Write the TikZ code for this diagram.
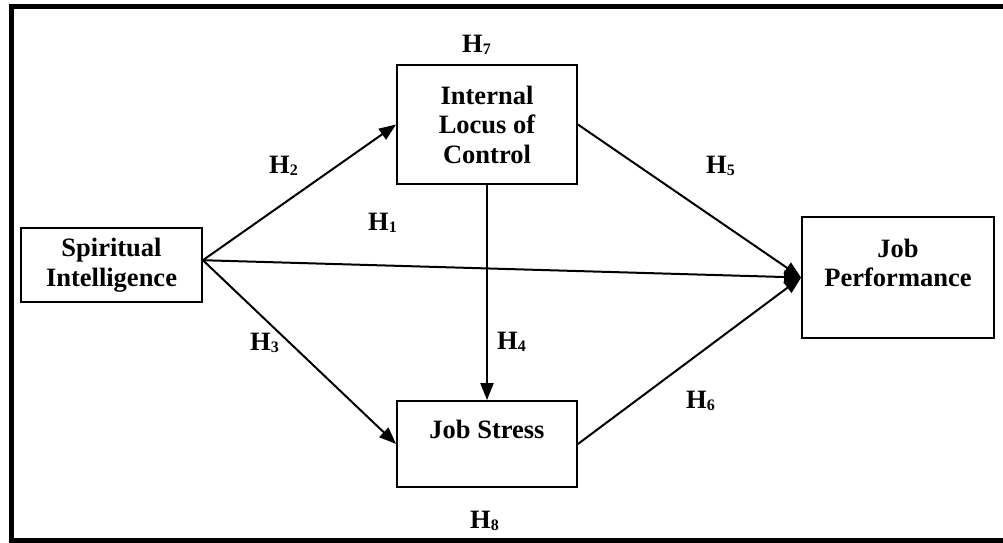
\documentclass[tikz,border=0pt]{standalone}
\usepackage{fontspec}
\setmainfont{Liberation Serif}
\usepackage{tikz}
\usetikzlibrary{arrows.meta}
\newcommand{\hyp}[1]{H\raisebox{-2pt}{\fontsize{16}{16}\selectfont #1}}

\begin{document}
\begin{tikzpicture}[x=1pt,y=-1pt,
    every node/.style={font=\fontsize{26.5}{29.5}\selectfont\bfseries},
    box/.style={rectangle,draw,line width=1.8pt,inner sep=0pt,align=center},
    arr/.style={-{Triangle[length=17pt,width=13pt]},line width=2pt},
    hyp/.style={anchor=base west,inner sep=0pt}]
      \useasboundingbox (0,0) rectangle (1003,542);
      %\draw (0,0) -- (1003,542);
      \draw[line width=5pt] (1003,6) -- (11,6) -- (11,540) -- (1003,540);
      \node[box,minimum width=181pt,minimum height=74pt] (SI) at (111.5,265) {Spiritual\\Intelligence};
      \node[box,minimum width=180pt,minimum height=119pt] (ILC) at (487,124.5) {Internal\\Locus of\\Control};
      \node[box,minimum width=180pt,minimum height=86pt] (JS) at (487,444) {Job Stress\\~};
      \node[box,minimum width=192pt,minimum height=121pt] (JP) at (898,277.5) {Job\\Performance\\~};
      \draw[arr] (SI.3) -- (ILC.west);
      \draw[arr] (SI.3) -- (JP.west);
      \draw[arr] (SI.3) -- (JS.west);
      \draw[arr] (ILC.south) -- (JS.north);
      \draw[arr] (ILC.east) -- (JP.west);
      \draw[arr] (JS.east) -- (JP.west);
      \node[hyp] (h1) at (368,230) {\hyp{1}};
      \node[hyp] (h2) at (269,173) {\hyp{2}};
      \node[hyp] (h3) at (250,350) {\hyp{3}};
      \node[hyp] (h4) at (497,349) {\hyp{4}};
      \node[hyp] (h5) at (706,173) {\hyp{5}};
      \node[hyp] (h6) at (686,408) {\hyp{6}};
      \node[hyp] (h7) at (462,52) {\hyp{7}};
      \node[hyp] (h8) at (470,528) {\hyp{8}};
\end{tikzpicture}
\end{document}
